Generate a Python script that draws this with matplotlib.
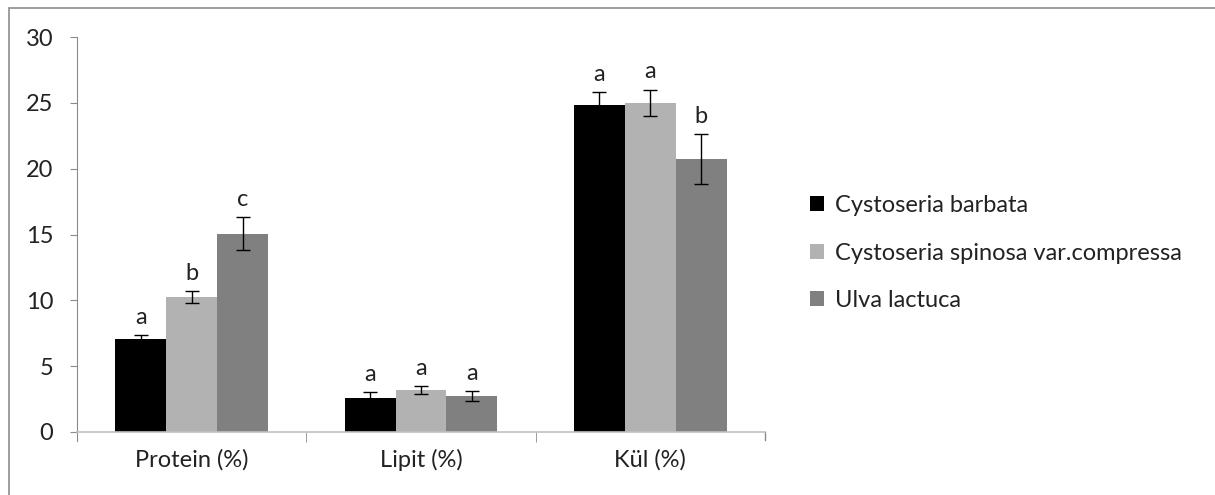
import matplotlib.pyplot as plt
import numpy as np
from matplotlib.patches import Rectangle

# bilesim verileri (ortalama ve standart sapma)
kategoriler = ['Protein (%)', 'Lipit (%)', 'Kül (%)']
turler = ['Cystoseria barbata', 'Cystoseria spinosa var.compressa', 'Ulva lactuca']
ortalamalar = [
    [7.05, 2.6, 24.8],
    [10.25, 3.2, 25.0],
    [15.05, 2.75, 20.75],
]
hatalar = [
    [0.3, 0.45, 1.0],
    [0.45, 0.3, 1.0],
    [1.25, 0.38, 1.9],
]
harfler = [
    ['a', 'a', 'a'],
    ['b', 'a', 'a'],
    ['c', 'a', 'b'],
]
renkler = ['#000000', '#b2b2b2', '#808080']

plt.rcParams['font.family'] = ['Lato', 'DejaVu Sans']
yazi = 17

fig = plt.figure(figsize=(12.15, 4.95), dpi=100)
ax = fig.add_axes([77 / 1215, 63 / 495, 688 / 1215, 395 / 495])

# grafik alaninin cercevesi
fig.patches.append(Rectangle((9 / 1215, -0.1), 1.2, (495 - 7.5) / 495 + 0.1,
                             transform=fig.transFigure, fill=False,
                             edgecolor='#8c8c8c', linewidth=1.2))

x = np.arange(len(kategoriler))
genislik = 1 / 4.5
for i, tur in enumerate(turler):
    konum = x + (i - 1) * genislik
    ax.bar(konum, ortalamalar[i], genislik, color=renkler[i], label=tur,
           yerr=hatalar[i], capsize=5,
           error_kw=dict(ecolor='black', elinewidth=1, capthick=1))
    for k in range(len(kategoriler)):
        ax.text(konum[k], ortalamalar[i][k] + hatalar[i][k] + 0.55, harfler[i][k],
                ha='center', va='bottom', fontsize=yazi, color='#222222')

ax.set_xlim(-0.5, 2.5)
ax.set_ylim(0, 30)
ax.set_yticks(range(0, 31, 5))
ax.set_xticks([0.5, 1.5], minor=True)
ax.set_xticks(x)
ax.set_xticklabels(kategoriler)

for s in ['top', 'right']:
    ax.spines[s].set_visible(False)
ax.spines['left'].set_color('#8a8a8a')
ax.spines['bottom'].set_color('#c0c0c0')
ax.spines['bottom'].set_linewidth(1.2)
ax.spines['left'].set_bounds(-0.7, 30)

ax.tick_params(axis='y', length=5, color='#8a8a8a', labelsize=yazi, pad=12,
               labelcolor='#222222')
ax.tick_params(axis='x', which='major', length=0, labelsize=yazi, pad=12,
               labelcolor='#222222')
ax.tick_params(axis='x', which='minor', length=7, color='#8a8a8a')
ax.axvline(2.5, ymin=-0.02, ymax=0, color='#8a8a8a', clip_on=False, linewidth=1)

ax.legend(loc='center left', bbox_to_anchor=(1.035, 0.453), frameon=False,
          fontsize=yazi, handlelength=0.6, handleheight=0.6, handletextpad=0.45,
          labelspacing=1.12, labelcolor='#222222')

fig.savefig('out.png', dpi=100)
